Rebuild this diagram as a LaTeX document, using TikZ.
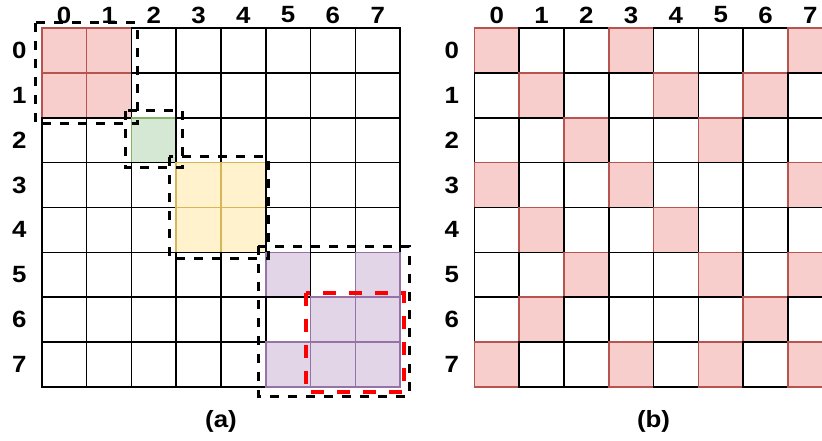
\documentclass[tikz,border=0pt]{standalone}
\usepackage{fontspec}
\setmainfont{Liberation Sans}[FakeStretch=1.1]
\definecolor{fR}{HTML}{F8CECC}\definecolor{sR}{HTML}{B85450}
\definecolor{fG}{HTML}{D5E8D4}\definecolor{sG}{HTML}{82B366}
\definecolor{fY}{HTML}{FFF2CC}\definecolor{sY}{HTML}{D6B656}
\definecolor{fP}{HTML}{E1D5E7}\definecolor{sP}{HTML}{9673A6}
\begin{document}
\begin{tikzpicture}[x=1pt,y=-1pt,
  cellW/.style={draw=black,fill=white,line width=1.6pt},
  cellR/.style={draw=sR,fill=fR,line width=1.6pt},
  cellG/.style={draw=sG,fill=fG,line width=1.6pt},
  cellY/.style={draw=sY,fill=fY,line width=1.6pt},
  cellP/.style={draw=sP,fill=fP,line width=1.6pt},
  lab/.style={font=\bfseries\fontsize{23.5}{28}\selectfont,inner sep=0pt},
  grpbox/.style={draw=black,line width=3pt,dash pattern=on 9pt off 9pt},
  redbox/.style={draw=red,line width=4pt,dash pattern=on 13pt off 13pt}]
\useasboundingbox (0,0) rectangle (822,441);
\clip (0,0) rectangle (822,441);
\def\s{44.8}
% left grid
\def\xa{41.7}\def\ya{28.3}
\foreach \r/\row in {0/{R,R,W,W,W,W,W,W},1/{R,R,W,W,W,W,W,W},2/{W,W,G,W,W,W,W,W},3/{W,W,W,Y,Y,W,W,W},4/{W,W,W,Y,Y,W,W,W},5/{W,W,W,W,W,P,W,P},6/{W,W,W,W,W,W,P,P},7/{W,W,W,W,W,P,P,P}}{
  \foreach \k [count=\c from 0] in \row {
    \draw[cell\k] ({\xa+\c*\s},{\ya+\r*\s}) rectangle ++(\s,\s);
  }
}
% right grid
\def\xb{474.3}
\foreach \r/\row in {0/{R,W,W,R,W,W,W,R},1/{W,R,W,W,R,W,R,W},2/{W,W,R,W,W,R,W,W},3/{R,W,W,R,W,W,W,R},4/{W,R,W,W,R,W,W,W},5/{W,W,R,W,W,R,W,R},6/{W,R,W,W,W,W,R,W},7/{R,W,W,R,W,R,W,R}}{
  \foreach \k [count=\c from 0] in \row {
    \draw[cell\k] ({\xb+\c*\s},{\ya+\r*\s}) rectangle ++(\s,\s);
  }
}
% labels
\foreach \i in {0,...,7}{
  \node[lab] (lc\i) at ({\xa+22.4+\i*\s},15) {\i};
  \node[lab] (lr\i) at (19.3,{\ya+22.4+\i*\s}) {\i};
  \node[lab] (rc\i) at ({\xb+22.4+\i*\s},15) {\i};
  \node[lab] (rr\i) at (451.7,{\ya+22.4+\i*\s}) {\i};
}
% dashed group boxes
\draw[grpbox] (35,23) rectangle (137,124);
\draw[grpbox] (125,111) rectangle (182,168);
\draw[grpbox] (169,157) rectangle (268,258);
\draw[grpbox] (258,246) rectangle (409,396);
\draw[redbox] (306,293) rectangle (404,392);
% captions
\node[lab] (capa) at (221,421.5) {(a)};
\node[lab] (capb) at (653.5,421.5) {(b)};
\end{tikzpicture}
\end{document}
